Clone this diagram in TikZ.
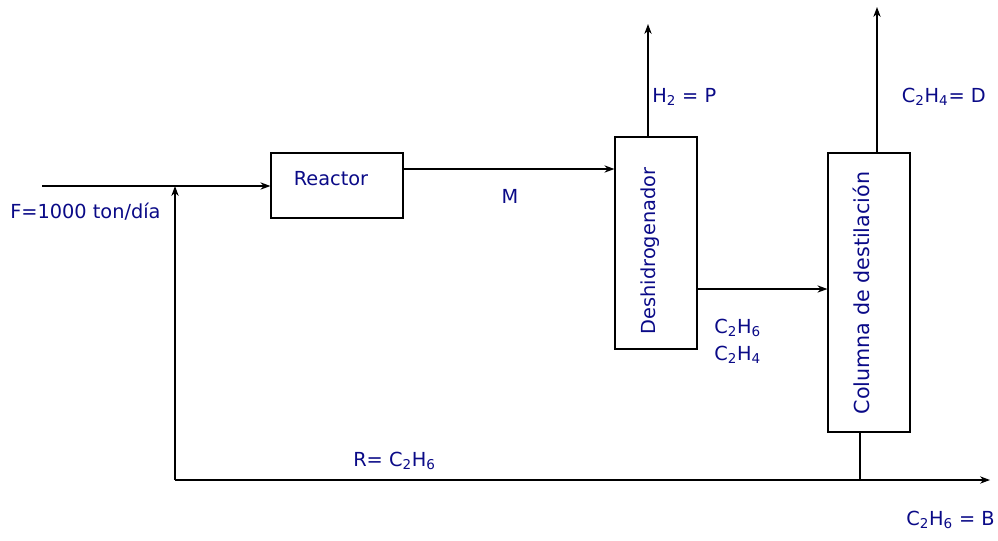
\documentclass[tikz,border=0pt]{standalone}
\usepackage{fontspec}
\setmainfont{DejaVu Sans}
\usetikzlibrary{arrows.meta}
\definecolor{txtblue}{RGB}{10,10,135}
\begin{document}
\begin{tikzpicture}[x=0.75pt,y=-0.75pt,
  line/.style={draw=black,line width=0.9pt},
  flow/.style={line,-{Stealth[length=7.5pt,width=5.5pt]}},
  unitbox/.style={draw=black,line width=0.9pt,rectangle,inner sep=0pt},
  lbl/.style={text=txtblue,font=\fontsize{14.5}{17}\selectfont,inner sep=0pt}]
\useasboundingbox (0,0) rectangle (998,540);
% units
\node[unitbox,minimum width=99pt,minimum height=48.75pt] (reactor) at (337,185.5) {};
\node[lbl] (reactortxt) at (331,179) {Reactor};
\node[unitbox,minimum width=61.5pt,minimum height=159pt] (deshid) at (656,243) {};
\node[lbl,rotate=90] (deshidtxt) at (650,251) {Deshidrogenador};
\node[unitbox,minimum width=61.5pt,minimum height=209.25pt] (column) at (869,292.5) {};
\node[lbl,rotate=90,font=\fontsize{15.5}{18}\selectfont] (columntxt) at (861,293) {Columna de destilación};
% coordinates
\coordinate (fin) at (42,186);
\coordinate (junc) at (175,186);
\coordinate (rcorner) at (175,480);
\coordinate (bj) at (860,480);
\coordinate (bout) at (990,480);
\coordinate (h2out) at (648,24);
\coordinate (dout) at (877,7);
% connectors
\draw[flow] (fin) -- (reactor.west |- fin);
\draw[flow] (reactor.east |- 0,169) -- (deshid.west |- 0,169);
\draw[flow] (deshid.north -| h2out) -- (h2out);
\draw[flow] (deshid.east |- 0,289) -- (column.west |- 0,289);
\draw[flow] (column.north -| dout) -- (dout);
\draw[line] (column.south -| bj) -- (bj);
\draw[flow] (rcorner) -- (bout);
\draw[flow] (rcorner) -- (junc);
% labels
\node[lbl,anchor=west] (flbl) at (10,212) {F=1000 ton/día};
\node[lbl] (mlbl) at (510,196) {M};
\node[lbl,anchor=west] (plbl) at (652,97) {H\textsubscript{2} = P};
\node[lbl,anchor=east] (dlbl) at (986,97) {C\textsubscript{2}H\textsubscript{4}= D};
\node[lbl,anchor=west] (m1lbl) at (714,328) {C\textsubscript{2}H\textsubscript{6}};
\node[lbl,anchor=west] (m2lbl) at (714,355) {C\textsubscript{2}H\textsubscript{4}};
\node[lbl,anchor=west] (rlbl) at (353,461) {R= C\textsubscript{2}H\textsubscript{6}};
\node[lbl,anchor=east] (blbl) at (995,520) {C\textsubscript{2}H\textsubscript{6} = B};
\end{tikzpicture}
\end{document}
